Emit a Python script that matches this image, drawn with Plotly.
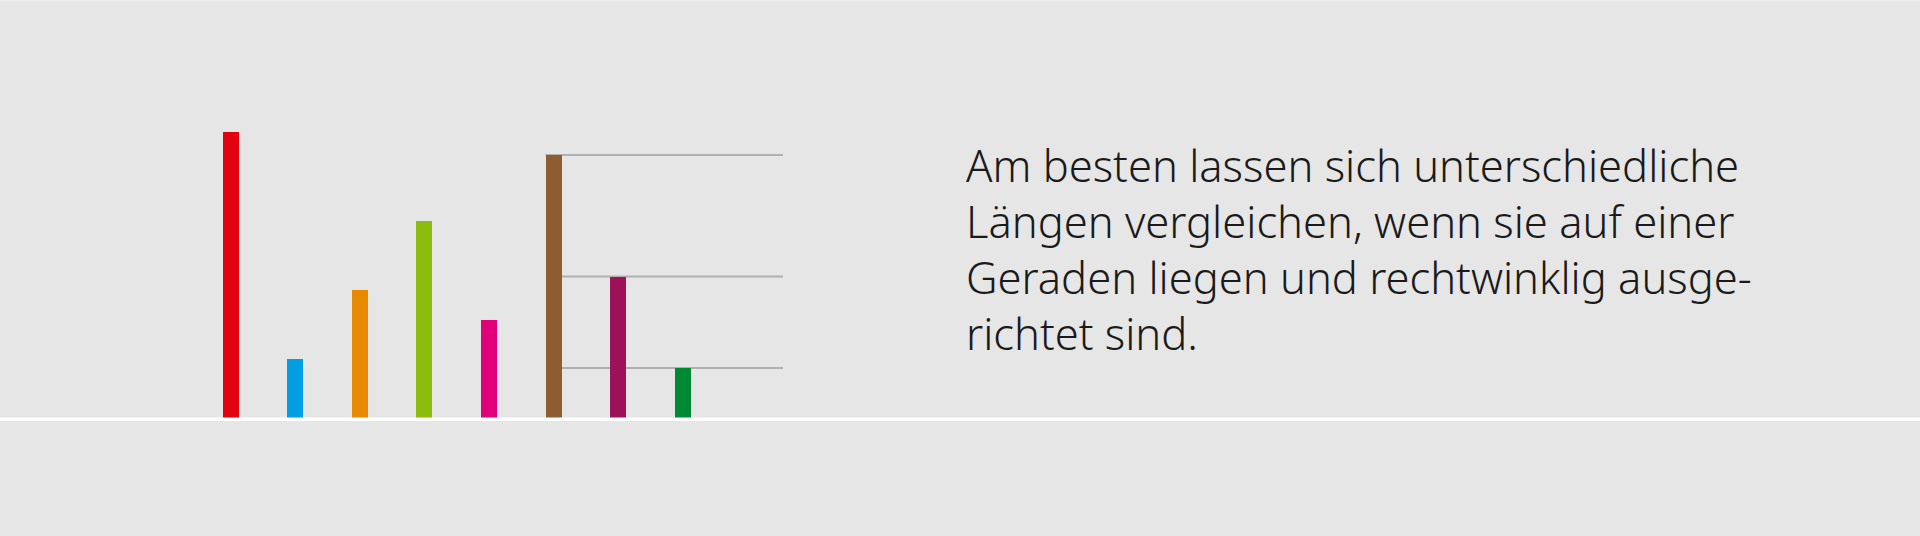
import plotly.graph_objects as go

categories = ["A", "B", "C", "D", "E", "F", "G", "H"]
values = [286, 59, 128, 197, 97.5, 262.5, 141, 49.5]
colors = ["#e3000f", "#009fe3", "#e88a00", "#8cbd0e", "#e2007a", "#8e5c2f", "#9e1058", "#008933"]
ref_bars = ["F", "G", "H"]
text_lines = [
    "Am besten lassen sich unterschiedliche",
    "Längen vergleichen, wenn sie auf einer",
    "Geraden liegen und rechtwinklig ausge-",
    "richtet sind.",
]

W, H = 1920, 536
x0_px, step_px = 230.8, 64.55
bar_w = 16 / step_px
base_px = 417.5

idx = list(range(len(categories)))
fig = go.Figure()
fig.add_trace(go.Bar(x=idx, y=values, width=bar_w, marker=dict(color=colors, line=dict(width=0)),
                     hoverinfo="skip"))

xr = [(0 - x0_px) / step_px, (W - x0_px) / step_px]
yr = [-(H - base_px), base_px]

line_end = (783 - x0_px) / step_px
bi = categories.index(ref_bars[0])
for k, c in enumerate(ref_bars):
    i = categories.index(c)
    start = bi - bar_w / 2 if k == 0 else bi + bar_w / 2
    fig.add_shape(type="line", xref="x", yref="y", x0=start, x1=line_end,
                  y0=values[i], y1=values[i], line=dict(color="#b0b0b0", width=2), layer="below")

fig.add_shape(type="line", xref="paper", yref="y", x0=0, x1=1, y0=-1.8, y1=-1.8,
              line=dict(color="#ffffff", width=3.6), layer="above")
fig.add_shape(type="line", xref="paper", yref="paper", x0=0, x1=1, y0=0.999, y1=0.999,
              line=dict(color="#eeeeee", width=1.2), layer="above")

baselines = [181.3, 237.3, 293.0, 348.5]
for t, b in zip(text_lines, baselines):
    fig.add_annotation(text=t, xref="paper", yref="paper", x=964 / W, y=1 - (b - 16) / H,
                       xanchor="left", yanchor="middle", showarrow=False,
                       font=dict(family="Noto Sans", size=43.5, color="#1a1a1a", weight=300))

fig.update_layout(
    width=W, height=H, margin=dict(l=0, r=0, t=0, b=0),
    paper_bgcolor="#e6e6e6", plot_bgcolor="#e6e6e6", showlegend=False,
    xaxis=dict(range=xr, visible=False, fixedrange=True),
    yaxis=dict(range=yr, visible=False, fixedrange=True),
    bargap=0,
)
fig.write_html("out.html", config={"displayModeBar": False},
               post_script="document.body.style.margin='0';document.body.style.padding='0';")
